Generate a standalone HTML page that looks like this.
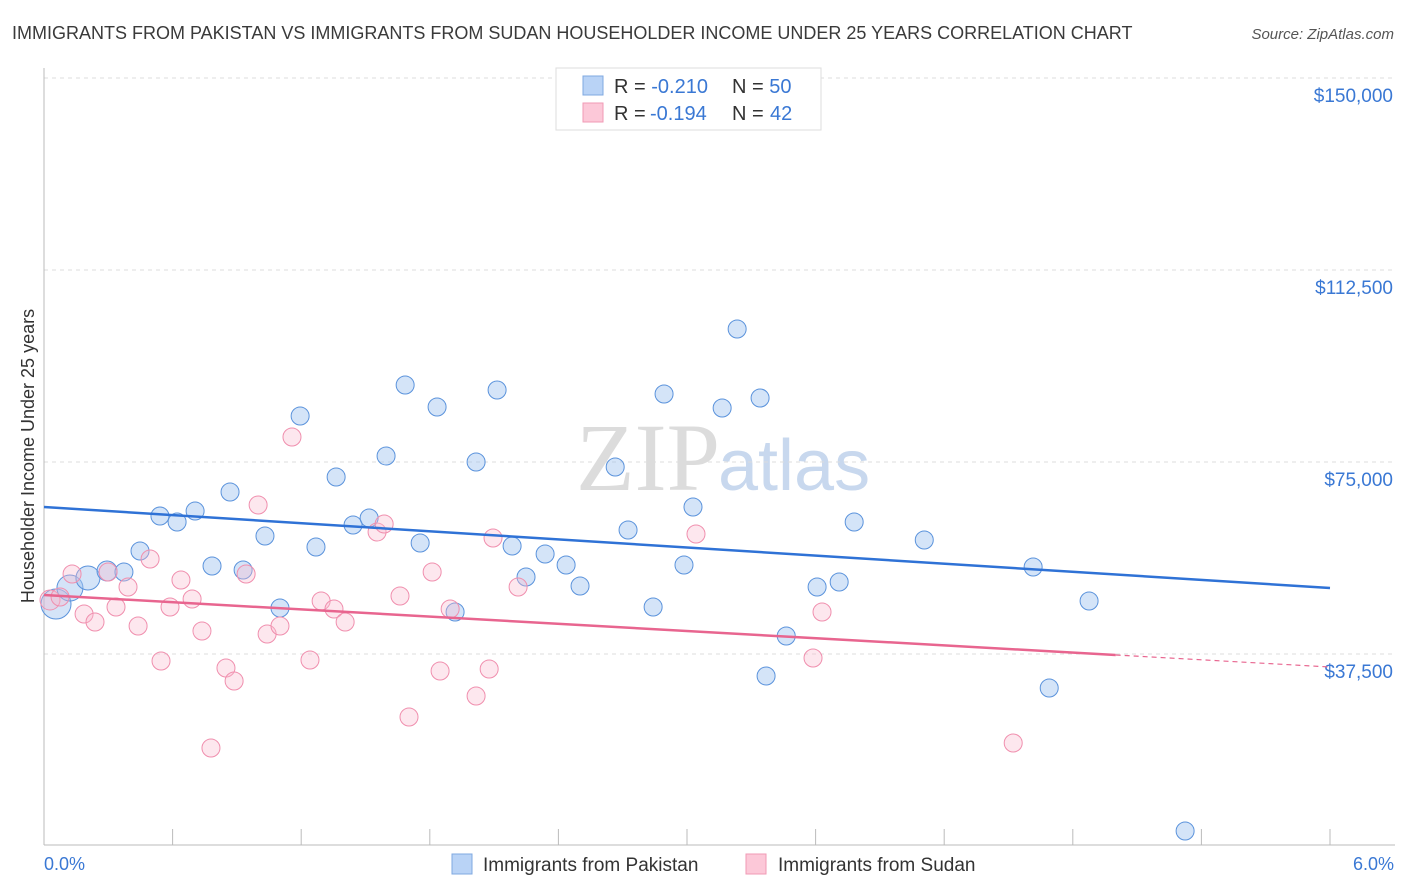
<!DOCTYPE html>
<html><head><meta charset="utf-8"><style>
body{margin:0;background:#fff;font-family:"Liberation Sans",sans-serif}
svg{display:block}
</style></head><body>
<svg id="c" width="1406" height="892" viewBox="0 0 1406 892">
<text x="12" y="39" font-size="18" fill="#3a3a3a">IMMIGRANTS FROM PAKISTAN VS IMMIGRANTS FROM SUDAN HOUSEHOLDER INCOME UNDER 25 YEARS CORRELATION CHART</text>
<text x="1394" y="39" font-size="15" fill="#555" font-style="italic" text-anchor="end">Source: ZipAtlas.com</text>
<text x="720" y="490" font-size="96" fill="#dcdcdc" font-family="Liberation Serif,serif" text-anchor="end">ZIP</text>
<text x="718" y="490" font-size="72" fill="#c8d8ee">atlas</text>
<text transform="translate(34,456) rotate(-90)" font-size="18" fill="#333" text-anchor="middle">Householder Income Under 25 years</text>
<g id="grid"></g><g id="pts"></g><g id="lines"></g>
<g>
<rect x="556" y="68" width="265" height="62" fill="#fff" stroke="#ddd"/>
<rect x="583" y="76" width="20" height="19" fill="#b9d3f6" stroke="#7fa8e0"/>
<rect x="583" y="103" width="20" height="19" fill="#fcc8d8" stroke="#f09ab5"/>
<text x="614" y="93" font-size="20" fill="#333">R = <tspan fill="#3a78d4">-0.210</tspan><tspan x="732">N = </tspan><tspan fill="#3a78d4">50</tspan></text>
<text x="614" y="120" font-size="20" fill="#333">R = <tspan fill="#3a78d4" x="650">-0.194</tspan><tspan x="732">N = </tspan><tspan fill="#3a78d4" x="770">42</tspan></text>
</g>
<g>
<rect x="452" y="854" width="20" height="20" fill="#b9d3f6" stroke="#7fa8e0"/>
<text x="483" y="871" font-size="19" fill="#333">Immigrants from Pakistan</text>
<rect x="746" y="854" width="20" height="20" fill="#fcc8d8" stroke="#f09ab5"/>
<text x="778" y="871" font-size="19" fill="#333">Immigrants from Sudan</text>
</g>
<text x="44" y="870" font-size="18" fill="#3a78d4">0.0%</text>
<text x="1394" y="870" font-size="18" fill="#3a78d4" text-anchor="end">6.0%</text>
</svg>
<script>
const yTicks=[150000,112500,75000,37500];
const yTickLabels=["$150,000","$112,500","$75,000","$37,500"];
const xTicks=[0,0.6,1.2,1.8,2.4,3.0,3.6,4.2,4.8,5.4,6.0];
const pakX=[0.056,0.121,0.205,0.294,0.373,0.448,0.541,0.621,0.705,0.784,0.868,0.929,1.031,1.101,1.195,1.269,1.363,1.442,1.517,1.596,1.685,1.755,1.834,1.918,2.016,2.114,2.184,2.249,2.338,2.436,2.501,2.665,2.725,2.842,2.893,2.986,3.028,3.164,3.234,3.341,3.369,3.463,3.607,3.710,3.780,4.107,4.615,4.690,4.876,5.324];
const pakY=[47266,50390,52344,53711,53516,57617,64453,63281,65430,54688,69141,53906,60547,46484,83984,58398,72070,62695,64063,76172,90039,59180,85742,45703,75000,89063,58594,52539,57031,54883,50781,74023,61719,46680,88281,54883,66211,85547,100977,87500,33203,41016,50586,51563,63281,59766,54492,30859,47852,2930];
const pakR=[15,13,12,10,9,9,9,9,9,9,9,9,9,9,9,9,9,9,9,9,9,9,9,9,9,9,9,9,9,9,9,9,9,9,9,9,9,9,9,9,9,9,9,9,9,9,9,9,9,9];
const sudX=[0.028,0.075,0.131,0.187,0.238,0.299,0.336,0.392,0.439,0.495,0.546,0.588,0.639,0.691,0.737,0.779,0.849,0.887,0.943,0.999,1.041,1.101,1.157,1.241,1.293,1.353,1.405,1.554,1.587,1.661,1.703,1.811,1.848,1.895,2.016,2.077,2.095,2.212,3.042,3.630,3.588,4.522];
const sudY=[48047,48633,53125,45313,43750,53516,46680,50586,42969,56055,36133,46680,51953,48242,41992,19141,34766,32227,53125,66602,41406,42969,79883,36328,47852,46289,43750,61328,62891,48828,25195,53516,34180,46289,29297,34570,60156,50586,60938,45703,36719,20117];
const pakTrend=[66211,50391];
const sudTrend=[49023,34961];
const sudSolidEnd=5.0;
const X=v=>44+v/6*1286, Y=v=>846-v/37500*192;
const NS="http://www.w3.org/2000/svg";
function mk(t,a,p){const e=document.createElementNS(NS,t);for(const k in a)e.setAttribute(k,a[k]);p.appendChild(e);return e;}
const g=document.getElementById('grid');
yTicks.forEach((t,i)=>{
 const l=mk('line',{x1:44,x2:1395,y1:Y(t),y2:Y(t),stroke:'#ddd','stroke-dasharray':'4,4'},g);
 
 
 const tx=mk('text',{x:1393,y:Y(t)+24,'font-size':19,fill:'#3a78d4','text-anchor':'end'},g);
 tx.textContent=yTickLabels[i];
 
 
});
mk('line',{x1:44,x2:44,y1:68,y2:845,stroke:'#bbb'},g);
mk('line',{x1:44,x2:1395,y1:845,y2:845,stroke:'#bbb'},g);
xTicks.slice(1).forEach(t=>{
 const l=mk('line',{x1:X(t),x2:X(t),y1:829,y2:845,stroke:'#bbb'},g);
 
 
});
const p=document.getElementById('pts');
pakX.forEach((x,i)=>{
 const c=mk('circle',{cx:X(x),cy:Y(pakY[i]),r:pakR[i],fill:'rgba(160,196,240,0.45)',stroke:'#5b93dc','stroke-width':1},p);
 
 
});
sudX.forEach((x,i)=>{
 const c=mk('circle',{cx:X(x),cy:Y(sudY[i]),r:i==0?10:9,fill:'rgba(250,185,205,0.35)',stroke:'#f08fae','stroke-width':1},p);
 
 
});
const L=document.getElementById('lines');
const bl=mk('line',{x1:X(0),y1:Y(pakTrend[0]),x2:X(6),y2:Y(pakTrend[1]),stroke:'#2f72d6','stroke-width':2.5},L);


const sy=v=>sudTrend[0]+(sudTrend[1]-sudTrend[0])*v/6;
const pl=mk('line',{x1:X(0),y1:Y(sudTrend[0]),x2:X(sudSolidEnd),y2:Y(sy(sudSolidEnd)),stroke:'#e8658f','stroke-width':2.5},L);


const pd=mk('line',{x1:X(sudSolidEnd),y1:Y(sy(sudSolidEnd)),x2:X(6),y2:Y(sudTrend[1]),stroke:'#e8658f','stroke-width':1.2,'stroke-dasharray':'5,4'},L);


</script>
</body></html>
